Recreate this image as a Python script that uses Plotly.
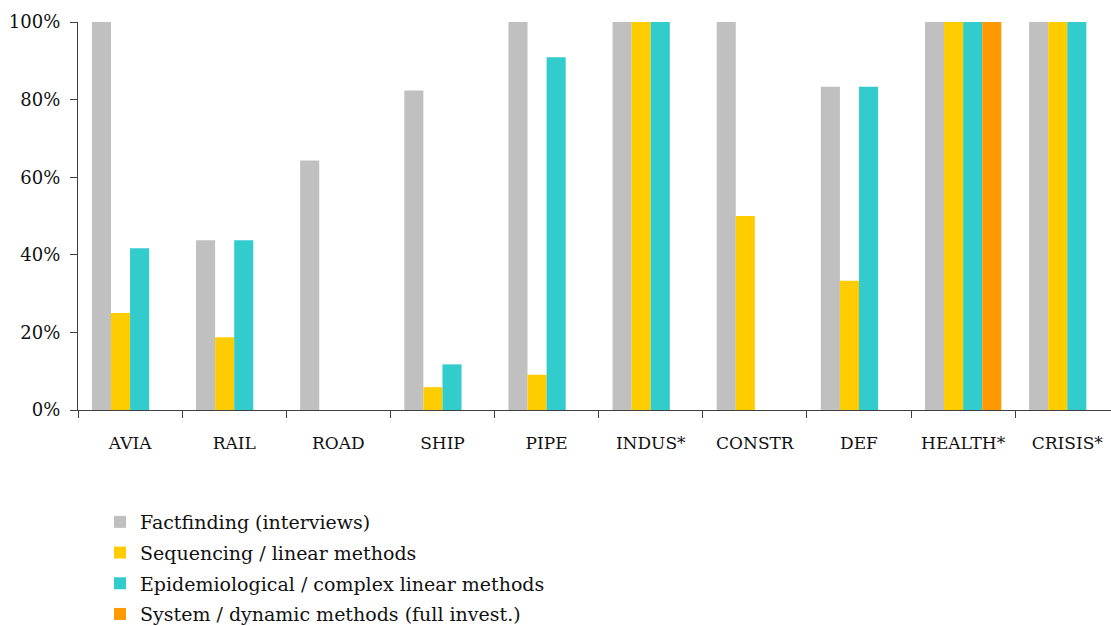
import plotly.graph_objects as go

categories = ["AVIA", "RAIL", "ROAD", "SHIP", "PIPE", "INDUS*", "CONSTR", "DEF", "HEALTH*", "CRISIS*"]

factfinding = [1.0, 0.4375, 0.643, 0.8235, 1.0, 1.0, 1.0, 0.833, 1.0, 1.0]
sequencing = [0.25, 0.1875, 0.0, 0.0588, 0.0909, 1.0, 0.5, 0.333, 1.0, 1.0]
epidemiological = [0.4167, 0.4375, 0.0, 0.1176, 0.9091, 1.0, 0.0, 0.833, 1.0, 1.0]
system_dynamic = [0.0, 0.0, 0.0, 0.0, 0.0, 0.0, 0.0, 0.0, 1.0, 0.0]

series = [
    ("Factfinding (interviews)", factfinding, "#C0C0C0"),
    ("Sequencing / linear methods", sequencing, "#FFCC00"),
    ("Epidemiological / complex linear methods", epidemiological, "#33CCCC"),
    ("System / dynamic methods (full invest.)", system_dynamic, "#FF9900"),
]

FONT = "DejaVu Serif, Liberation Serif, serif"
AXIS = "#404040"

fig = go.Figure()
for i, (name, vals, color) in enumerate(series):
    fig.add_trace(go.Bar(
        x=categories, y=vals, name=name, legendgroup=f"g{i}",
        marker=dict(color=color, line=dict(width=0)),
    ))

fig.update_layout(
    width=1111, height=626,
    margin=dict(l=78, r=0, t=22, b=215.5, autoexpand=False),
    paper_bgcolor="white", plot_bgcolor="white",
    barmode="group", bargap=0.267, bargroupgap=0,
    font=dict(family=FONT, color="#111111", size=18),
    showlegend=True,
    legend=dict(
        xref="container", yref="container",
        x=100 / 1111, y=1 - 503 / 626, xanchor="left", yanchor="top",
        font=dict(size=19, family=FONT, color="#111111"),
        traceorder="grouped", tracegroupgap=3,
        bgcolor="rgba(0,0,0,0)",
    ),
    xaxis=dict(
        type="category", range=[-0.5, 9.42],
        showline=True, linecolor=AXIS, linewidth=1.3,
        ticks="outside", tickson="boundaries", ticklen=7, tickcolor=AXIS, tickwidth=1.3,
        showgrid=False, tickfont=dict(size=17), tickangle=0,
        ticklabelstandoff=17,
    ),
    yaxis=dict(
        range=[0, 1], tickvals=[0, 0.2, 0.4, 0.6, 0.8, 1.0], tickformat=".0%",
        showline=True, linecolor=AXIS, linewidth=1.3,
        ticks="outside", ticklen=7, tickcolor=AXIS, tickwidth=1.3,
        showgrid=False, zeroline=False, tickfont=dict(size=18),
        ticklabelstandoff=6,
    ),
)

fig.write_html("out.html")
